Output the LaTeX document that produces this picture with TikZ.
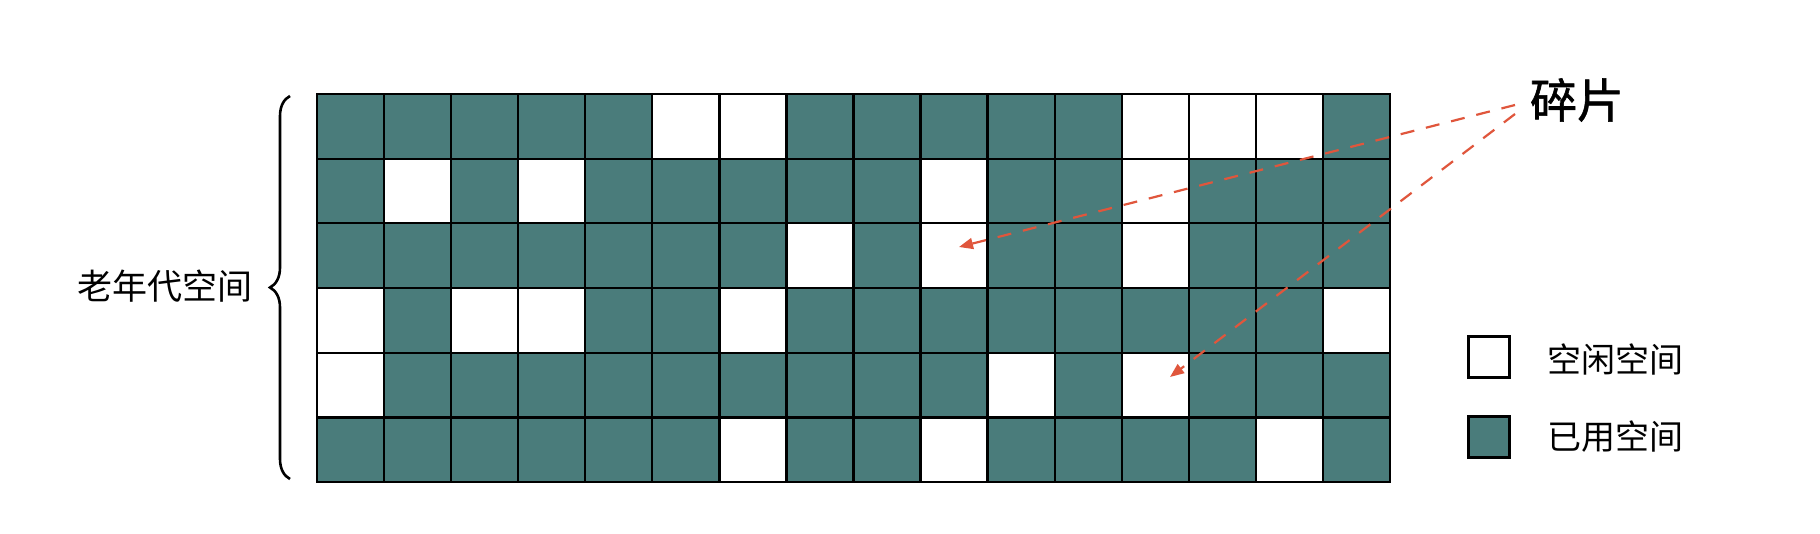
\documentclass[tikz,border=0pt]{standalone}
\usepackage{fontspec}
\setmainfont{Noto Sans CJK SC}
\newfontfamily\fragfont[FakeBold=1.2]{Noto Sans CJK SC}
\usetikzlibrary{arrows.meta,decorations.pathreplacing}
\definecolor{used}{RGB}{74,124,123}
\definecolor{frag}{RGB}{224,86,60}
\begin{document}
\begin{tikzpicture}[x=1pt,y=-1pt,
  cell/.style={draw=black,line width=2.3pt,minimum width=67.06pt,minimum height=64.67pt,inner sep=0pt,outer sep=0pt},
  legbox/.style={draw=black,line width=2.2pt,minimum width=41pt,minimum height=41pt,inner sep=0pt},
  lbl/.style={font=\fontsize{35}{40}\selectfont,inner sep=0pt},
  fragarrow/.style={draw=frag,line width=2.2pt,dash pattern=on 14pt off 12pt,-{Triangle[length=14pt,width=11pt]}}]
\path[use as bounding box,fill=white] (0,0) rectangle (1820,534);
\foreach \row [count=\r] in {
  {1,1,1,1,1,0,0,1,1,1,1,1,0,0,0,1},
  {1,0,1,0,1,1,1,1,1,0,1,1,0,1,1,1},
  {1,1,1,1,1,1,1,0,1,0,1,1,0,1,1,1},
  {0,1,0,0,1,1,0,1,1,1,1,1,1,1,1,0},
  {0,1,1,1,1,1,1,1,1,1,0,1,0,1,1,1},
  {1,1,1,1,1,1,0,1,1,0,1,1,1,1,0,1}} {
  \foreach \v [count=\c] in \row {
    \ifnum\v=1 \def\fc{used}\else\def\fc{white}\fi
    \node[cell,fill=\fc] (c-\r-\c) at ({317+(\c-0.5)*67.06},{94+(\r-0.5)*64.67}) {};
  }
}
% brace and label
\coordinate (bb) at (290,479);
\coordinate (bt) at (290,96);
\draw[line width=2.6pt,decorate,decoration={brace,amplitude=20pt}] (bb) -- (bt);
\node[lbl] (old) at (165,286) {老年代空间};
% fragment label and arrows
\node[font=\fragfont\fontsize{47}{52}\selectfont,inner sep=0pt] (frg) at (1577,100) {碎片};
\coordinate (s1) at (1515,105);
\coordinate (s2) at (1515,114);
\coordinate (t1) at (959,247);
\coordinate (t2) at (1170,377);
\draw[fragarrow] (s1) -- (t1);
\draw[fragarrow] (s2) -- (t2);
% legend
\node[legbox,fill=white] (lfree) at (1489,357) {};
\node[legbox,fill=used] (lused) at (1489,437) {};
\node[lbl,anchor=west,font=\fontsize{34}{40}\selectfont] (tfree) at (1547,359) {空闲空间};
\node[lbl,anchor=west,font=\fontsize{34}{40}\selectfont] (tused) at (1547,437) {已用空间};
\end{tikzpicture}
\end{document}
